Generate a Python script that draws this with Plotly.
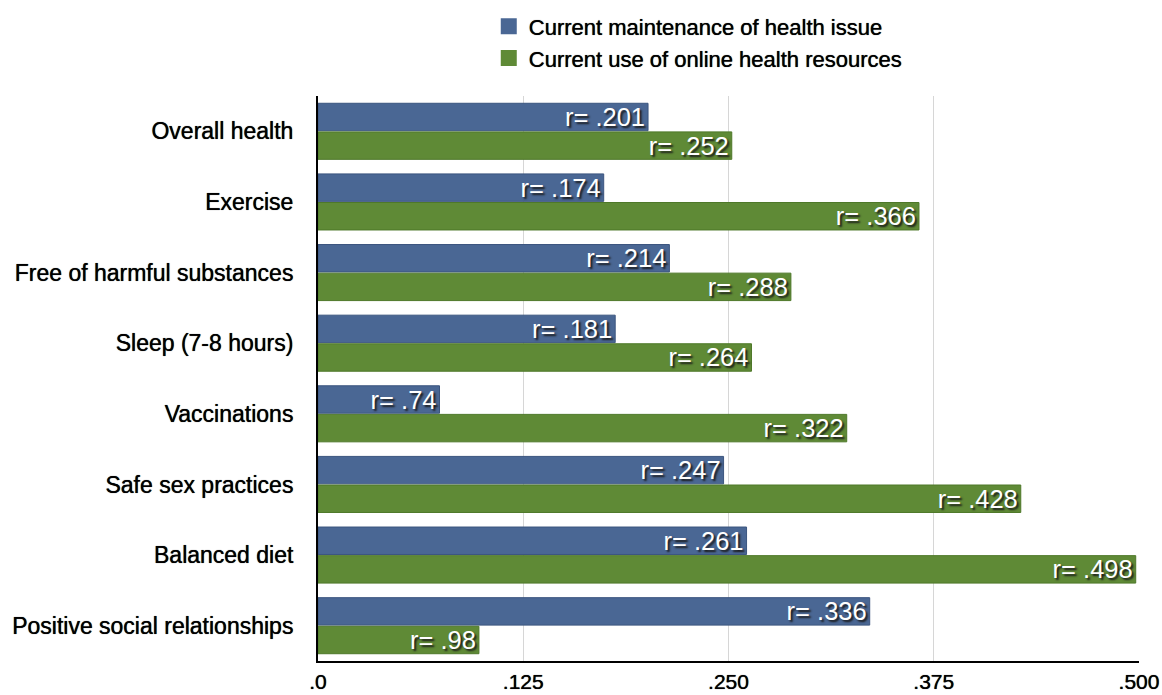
import plotly.graph_objects as go

categories = [
    "Overall health",
    "Exercise",
    "Free of harmful substances",
    "Sleep (7-8 hours)",
    "Vaccinations",
    "Safe sex practices",
    "Balanced diet",
    "Positive social relationships",
]
maintenance = [0.201, 0.174, 0.214, 0.181, 0.074, 0.247, 0.261, 0.336]
online_use = [0.252, 0.366, 0.288, 0.264, 0.322, 0.428, 0.498, 0.098]
maintenance_labels = ["r= .201", "r= .174", "r= .214", "r= .181", "r= .74", "r= .247", "r= .261", "r= .336"]
online_labels = ["r= .252", "r= .366", "r= .288", "r= .264", "r= .322", "r= .428", "r= .498", "r= .98"]
series_names = ["Current maintenance of health issue", "Current use of online health resources"]
tick_vals = [0, 0.125, 0.25, 0.375, 0.5]
tick_text = [".0", ".125", ".250", ".375", ".500"]

FONT = "Liberation Sans, Arial, Helvetica, sans-serif"
BLUE, BLUE_EDGE = "#4a6794", "#3b557f"
GREEN, GREEN_EDGE = "#5f8a36", "#4e7829"
# a faint same-colour halo gives the dark text a slightly heavier stroke
HEAVY = "0px 0px 0.7px #000"
label_font = dict(family=FONT, size=25.5, color="white", shadow="2px 2px 2px #1a1a1a")

fig = go.Figure()
for values, labels, color, edge in [
    (maintenance, maintenance_labels, BLUE, BLUE_EDGE),
    (online_use, online_labels, GREEN, GREEN_EDGE),
]:
    fig.add_trace(go.Bar(
        y=categories, x=values, orientation="h",
        text=labels, textposition="inside", insidetextanchor="end",
        textfont=label_font, constraintext="none", cliponaxis=False,
        marker=dict(color=color, line=dict(color=edge, width=1)),
        showlegend=False,
    ))

# legend entries drawn as larger square swatches
for name, color in zip(series_names, [BLUE, GREEN]):
    fig.add_trace(go.Scatter(
        x=[None], y=[None], mode="markers", name=name,
        marker=dict(symbol="square", size=17, color=color),
        showlegend=True,
    ))

fig.update_layout(
    width=1162, height=695,
    margin=dict(l=318, r=23, t=96, b=34),
    paper_bgcolor="white", plot_bgcolor="white",
    barmode="group", bargap=0.19, bargroupgap=0.04,
    font=dict(family=FONT, size=22, color="black"),
    legend=dict(
        x=0.208, xanchor="left", y=0.992, yanchor="top", yref="container",
        font=dict(family=FONT, size=22, color="black", shadow=HEAVY),
        traceorder="normal", bgcolor="rgba(0,0,0,0)",
        itemwidth=30, tracegroupgap=0,
    ),
    xaxis=dict(
        range=[0, 0.5], tickvals=tick_vals, ticktext=tick_text,
        showgrid=True, gridcolor="#d6d6d6", gridwidth=1,
        showline=True, linecolor="black", linewidth=2,
        zeroline=False, ticks="", ticklen=0, automargin=False,
        ticklabelstandoff=1,
        tickfont=dict(family=FONT, size=21, color="black", shadow=HEAVY),
    ),
    yaxis=dict(
        autorange="reversed", showline=True, linecolor="black", linewidth=2,
        ticks="", ticklabelstandoff=18, automargin=False,
        tickfont=dict(family=FONT, size=23, color="black", shadow=HEAVY),
    ),
)

fig.write_html("out.html")
